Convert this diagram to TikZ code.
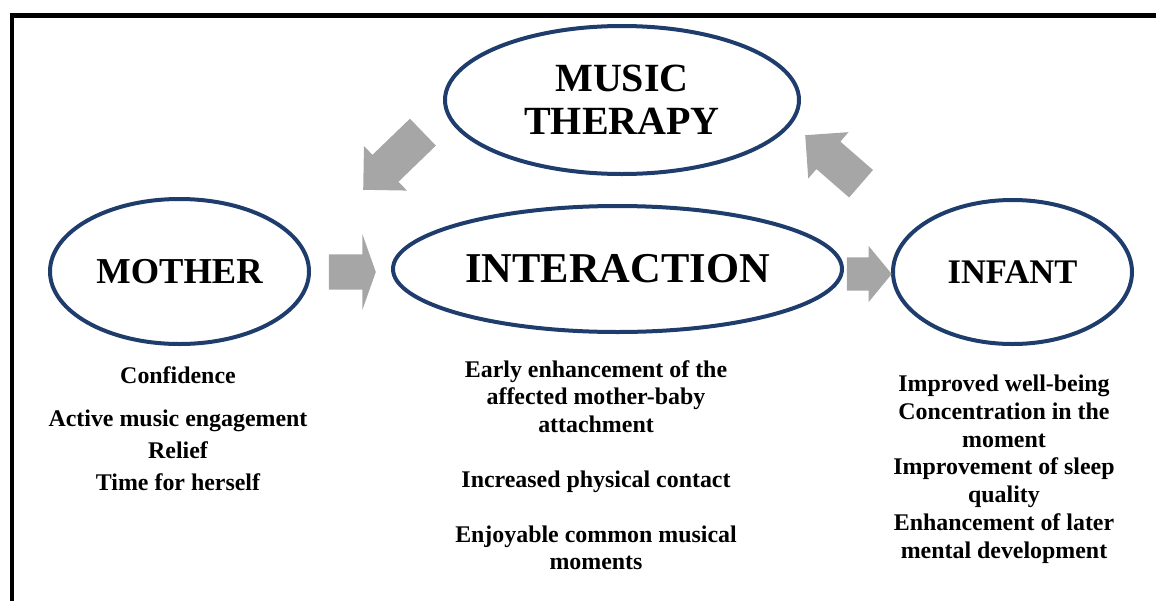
\documentclass[tikz,border=0pt]{standalone}
\usepackage{fontspec}
\setmainfont{Liberation Serif}
\usetikzlibrary{shapes.geometric,shapes.arrows}

\definecolor{ringblue}{RGB}{31,61,108}
\definecolor{arrowgray}{RGB}{166,166,166}

\begin{document}
\begin{tikzpicture}[x=1pt, y=-1pt,
    ring/.style={ellipse, draw=ringblue, line width=4pt, inner sep=0pt, align=center},
    blockarrow/.style={single arrow, fill=arrowgray, anchor=tip, inner xsep=0pt},
    list/.style={anchor=base, align=center, font=\fontsize{23.9}{27.5}\selectfont\bfseries}
]
\useasboundingbox (0,0) rectangle (1156,600);

% frame, only top and left edge inside the page
\draw[line width=4.5pt] (1160,15.5) -- (12,15.5) -- (12,604);

% Ellipses
\node[ring, minimum width=354pt, minimum height=148pt, font=\fontsize{40}{43}\selectfont\bfseries] (music) at (622,100) {MUSIC\\THERAPY};
\node[ring, minimum width=259pt, minimum height=145pt, font=\fontsize{36.5}{40}\selectfont\bfseries] (mother) at (179.5,271.5) {MOTHER};
\node[ring, minimum width=449pt, minimum height=126pt, font=\fontsize{42.5}{46}\selectfont\bfseries] (inter) at (617.5,269) {INTERACTION};
\node[ring, minimum width=239pt, minimum height=144pt, font=\fontsize{34.5}{38}\selectfont\bfseries] (infant) at (1012.5,272) {INFANT};

% Block arrows
\node[blockarrow, inner ysep=17.5pt, single arrow head extend=20pt, single arrow tip angle=141, minimum height=47pt] (toiner) at (376,272) {};
\node[blockarrow, inner ysep=16.5pt, single arrow head extend=11.5pt, single arrow tip angle=101, minimum height=45pt] (toinf) at (892,274) {};
\node[blockarrow, inner ysep=18.5pt, single arrow head extend=12.25pt, single arrow tip angle=90, minimum height=83pt, rotate=224] (down) at (363,190) {};
\node[blockarrow, inner ysep=18pt, single arrow head extend=12.5pt, single arrow tip angle=90, minimum height=74pt, rotate=139] (up) at (805,135) {};

% Lists under the ellipses (base = last line)
\node[list, font=\fontsize{23.9}{32}\selectfont\bfseries] (motherlist) at (178,490) {Confidence\\[11pt]Active music engagement\\Relief\\Time for herself};
\node[list] (interlist) at (596,569.5) {Early enhancement of the\\affected mother-baby\\attachment\\[27.5pt]Increased physical contact\\[27.5pt]Enjoyable common musical\\moments};
\node[list, font=\fontsize{23.9}{27.7}\selectfont\bfseries] (infantlist) at (1004,558) {Improved well-being\\Concentration in the\\moment\\Improvement of sleep\\quality\\Enhancement of later\\mental development};

\end{tikzpicture}
\end{document}
